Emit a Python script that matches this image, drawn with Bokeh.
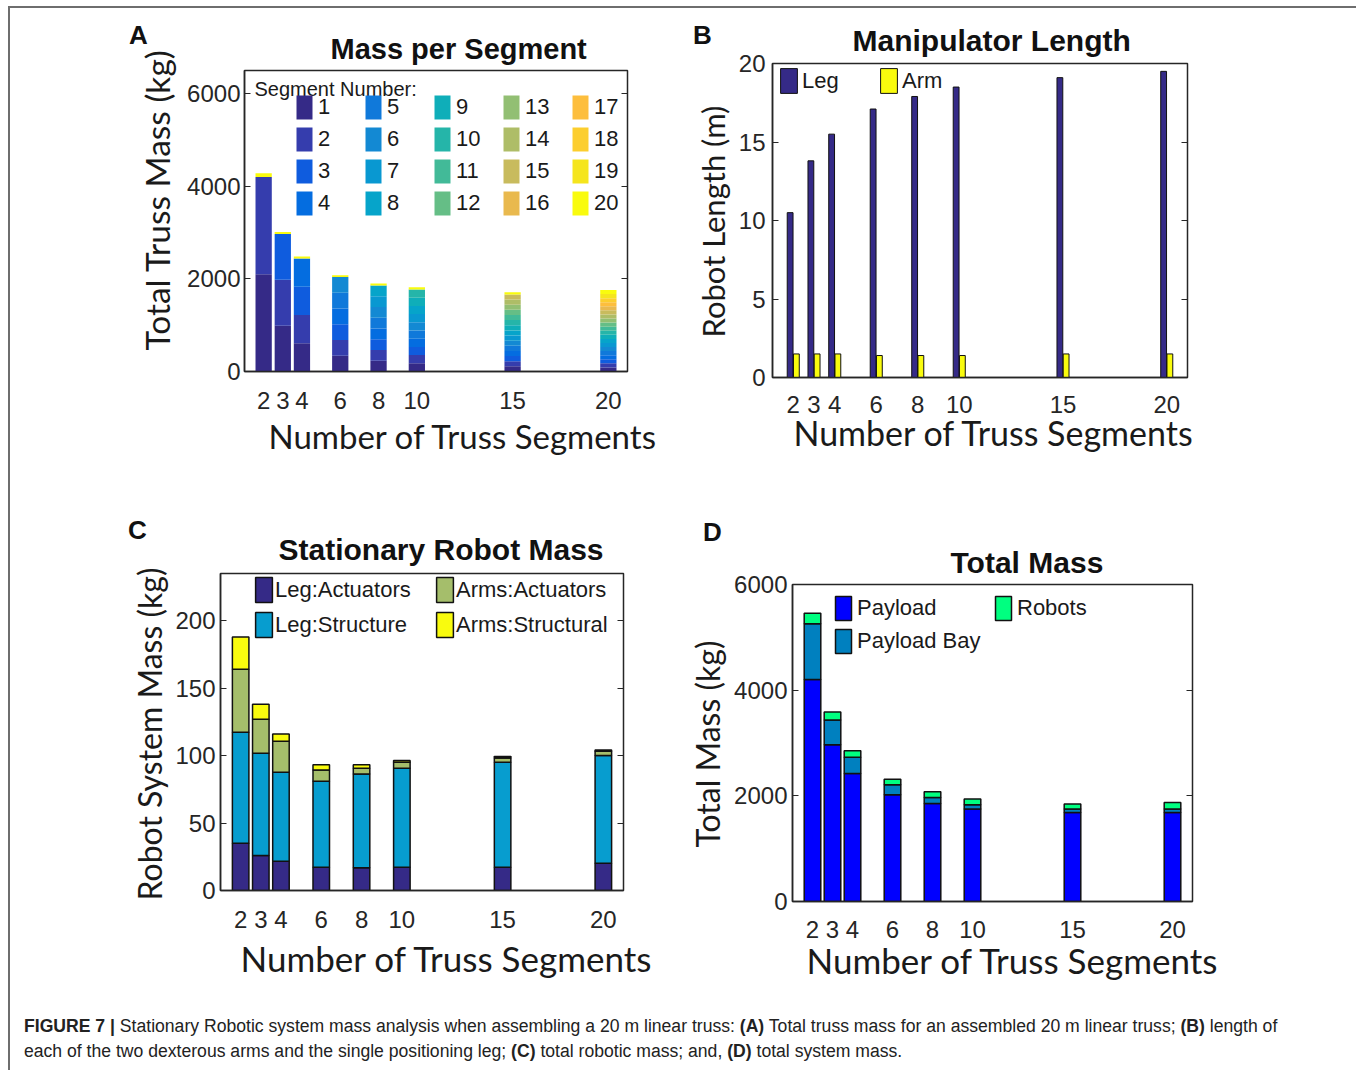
from bokeh.plotting import figure
from bokeh.models import (ColumnDataSource, FixedTicker, Range1d, Legend, LegendItem,
                          Label, LinearAxis, CustomJSTickFormatter, Div, Title)
from bokeh.layouts import row, column
from bokeh.transform import dodge
from bokeh.embed import file_html
from bokeh.resources import INLINE

# ---------------------------------------------------------------- data
truss_segments = [2, 3, 4, 6, 8, 10, 15, 20]

# (A) mass of each truss segment (kg), one list per configuration
seg_mass_n2 = [2100, 2100]
seg_mass_n3 = [990, 990, 990]
seg_mass_n4 = [610, 610, 610, 610]
seg_mass_n6 = [340, 340, 340, 340, 340, 340]
seg_mass_n8 = [232, 232, 232, 232, 232, 232, 232, 232]
seg_mass_n10 = [177, 177, 177, 177, 177, 177, 177, 177, 177, 177]
seg_mass_n15 = [111, 111, 111, 111, 111, 111, 111, 111, 111, 111, 111, 111, 111, 111, 111]
seg_mass_n20 = [88, 88, 88, 88, 88, 88, 88, 88, 88, 88,
                88, 88, 88, 88, 88, 88, 88, 88, 88, 88]
# small end piece stacked in the segment-20 slot
end_cap_mass = [80, 44, 44, 40, 44, 50, 45, 0]
segment_numbers = [str(k) for k in range(1, 21)]

# (B) manipulator lengths (m)
leg_length = [10.5, 13.8, 15.5, 17.1, 17.9, 18.5, 19.1, 19.5]
arm_length = [1.5, 1.5, 1.5, 1.4, 1.4, 1.4, 1.5, 1.5]

# (C) stationary robot mass breakdown (kg)
leg_actuators = [35.0, 26.0, 21.7, 17.3, 16.8, 17.3, 17.3, 20.2]
leg_structure = [82.3, 75.7, 66.0, 63.7, 69.6, 73.3, 77.7, 79.8]
arms_actuators = [46.7, 25.3, 22.9, 8.4, 4.2, 4.4, 3.3, 3.2]
arms_structural = [24.0, 11.0, 5.4, 3.9, 2.7, 1.3, 1.0, 1.0]

# (D) total system mass breakdown (kg)
payload = [4200, 2968, 2425, 2021, 1857, 1750, 1686, 1686]
payload_bay = [1055, 468, 303, 190, 113, 82, 64, 64]
robots = [202, 151, 127, 101, 108, 107, 94, 126]

# ---------------------------------------------------------------- styling
PARULA20 = ["#352a87", "#353dad", "#0f5cde", "#046de0", "#1079da", "#1389d3",
            "#0998d1", "#06a4ca", "#0faeb9", "#25b5a9", "#42ba98", "#65be86",
            "#92bf73", "#aebd67", "#c8bb5d", "#e9b94e", "#fdbe3d", "#fcce2e",
            "#f5e51d", "#f9fb0e"]
LABEL_FONT = "Lato"
TICK_FONT = "Liberation Sans"
INK = "#1a1a1a"
XLABEL = "Number of Truss Segments"


def base_figure(width, height, left, right, top, bottom, y_max):
    p = figure(width=width, height=height, output_backend="svg", toolbar_location=None,
               x_range=Range1d(1, 21), y_range=Range1d(0, y_max),
               min_border_left=left, min_border_right=right,
               min_border_top=top, min_border_bottom=bottom,
               background_fill_color="white", border_fill_color="white")
    p.grid.visible = False
    p.outline_line_color = "#262626"
    p.outline_line_width = 1.5
    return p


def style_axes(p, y_ticks, xt_standoff, yt_standoff):
    p.xaxis.ticker = FixedTicker(ticks=truss_segments)
    p.yaxis.ticker = FixedTicker(ticks=y_ticks)
    for ax in (p.xaxis[0], p.yaxis[0]):
        ax.axis_line_color = "#262626"
        ax.axis_line_width = 1.5
        ax.minor_tick_line_color = None
        ax.major_label_text_font = TICK_FONT
        ax.major_label_text_font_size = "24px"
        ax.major_label_text_color = "#262626"
    p.xaxis.major_tick_line_color = None
    p.xaxis.major_label_standoff = xt_standoff
    p.yaxis.major_tick_in = 6
    p.yaxis.major_tick_out = 0
    p.yaxis.major_tick_line_color = "#262626"
    p.yaxis.major_label_standoff = yt_standoff
    right_ax = LinearAxis(ticker=FixedTicker(ticks=y_ticks),
                          formatter=CustomJSTickFormatter(code="return ''"),
                          major_tick_in=6, major_tick_out=0,
                          major_tick_line_color="#262626",
                          minor_tick_line_color=None, axis_line_color=None)
    p.add_layout(right_ax, "right")


def axis_titles(p, xsize, xoff, xstand, ylabel, ysize, yoff, ystand):
    # axis titles placed as side titles so they can sit off-centre
    p.add_layout(Title(text=XLABEL, align="left", offset=xoff, standoff=xstand,
                       text_font=LABEL_FONT, text_font_style="normal",
                       text_font_size=xsize, text_color=INK), "below")
    p.add_layout(Title(text=ylabel, align="left", offset=yoff, standoff=ystand,
                       text_font=LABEL_FONT, text_font_style="normal",
                       text_font_size=ysize, text_color=INK), "left")


def set_title(p, text, offset, size, standoff):
    p.title.text = text
    p.title.align = "left"
    p.title.offset = offset
    p.title.text_font = TICK_FONT
    p.title.text_font_style = "bold"
    p.title.text_font_size = size
    p.title.text_color = "#111111"
    p.title.standoff = standoff


def panel_letter(p, letter, x, y):
    # kept in the roomy right-hand border panel so the frame does not clip it
    p.add_layout(Label(x=x, y=y, x_units="screen", y_units="screen", text=letter,
                       text_font=TICK_FONT, text_font_style="bold",
                       text_font_size="26px", text_color="#111111",
                       text_align="center", text_baseline="middle"), "right")


def plain_legend(items, **kw):
    lg = Legend(items=items, background_fill_alpha=0, border_line_color=None,
                padding=0, margin=0, label_text_font=TICK_FONT,
                label_text_font_size="22px", label_text_color=INK, **kw)
    return lg


# ---------------------------------------------------------------- (A)
pa = base_figure(670, 482, 234, 53, 62, 119, 6500)
seg_lists = [seg_mass_n2, seg_mass_n3, seg_mass_n4, seg_mass_n6,
             seg_mass_n8, seg_mass_n10, seg_mass_n15, seg_mass_n20]
stack_cols = {"x": truss_segments}
for k in range(20):
    col = []
    for masses, cap in zip(seg_lists, end_cap_mass):
        v = masses[k] if k < len(masses) else 0
        if k == 19:
            v += cap
        col.append(v)
    stack_cols["s%d" % (k + 1)] = col
src_a = ColumnDataSource(stack_cols)
fields = ["s%d" % (k + 1) for k in range(20)]
rs_a = pa.vbar_stack(fields, x="x", width=0.85, color=PARULA20, line_color=None,
                     source=src_a)
style_axes(pa, [0, 2000, 4000, 6000], 14, 4)
axis_titles(pa, "33px", 24, 4, "Total Truss Mass (kg)", "33.5px", 21, 16)
set_title(pa, "Mass per Segment", 86, "29px", 12)
leg_a = plain_legend([LegendItem(label=n, renderers=[r]) for n, r in zip(segment_numbers, rs_a)],
                     location=(50, 153), orientation="vertical", nrows=4,
                     glyph_width=20, glyph_height=30, label_standoff=4,
                     label_width=43, label_height=30, spacing=2)
pa.add_layout(leg_a)
pa.add_layout(Label(x=10, y=283, x_units="screen", y_units="screen", text="Segment Number:",
                    text_font=TICK_FONT, text_font_size="20px", text_color=INK,
                    text_baseline="middle"))
panel_letter(pa, "A", -489, 337)

# ---------------------------------------------------------------- (B)
pb = base_figure(670, 482, 92, 163, 55, 113, 20)
src_b = ColumnDataSource(dict(x=truss_segments, leg=leg_length, arm=arm_length))
r_leg = pb.vbar(x=dodge("x", -0.15), top="leg", width=0.28, source=src_b,
                fill_color=PARULA20[0], line_color="#111111", line_width=1)
r_arm = pb.vbar(x=dodge("x", 0.15), top="arm", width=0.28, source=src_b,
                fill_color=PARULA20[19], line_color="#111111", line_width=1)
style_axes(pb, [0, 5, 10, 15, 20], 12, 7)
axis_titles(pb, "34px", 21, -12, "Robot Length (m)", "31px", 40, 8)
set_title(pb, "Manipulator Length", 80, "30px", 13)
leg_b = plain_legend([LegendItem(label="Leg", renderers=[r_leg]),
                      LegendItem(label="Arm", renderers=[r_arm])],
                     location=(6, 281), orientation="horizontal",
                     glyph_width=21, glyph_height=31, label_standoff=3,
                     label_width=76, label_height=31, spacing=0)
pb.add_layout(leg_b)
panel_letter(pb, "B", -485, 343)

# ---------------------------------------------------------------- (C)
pc = base_figure(670, 505, 210, 57, 83, 105, 235)
src_c = ColumnDataSource(dict(x=truss_segments, la=leg_actuators, ls=leg_structure,
                              aa=arms_actuators, ast=arms_structural))
c_colors = ["#352a87", "#079dcf", "#a5be6b", "#f9fb0e"]
c_names = ["Leg:Actuators", "Leg:Structure", "Arms:Actuators", "Arms:Structural"]
rs_c = pc.vbar_stack(["la", "ls", "aa", "ast"], x="x", width=0.82, color=c_colors,
                     line_color="#111111", line_width=1.5, source=src_c)
style_axes(pc, [0, 50, 100, 150, 200], 14, 5)
axis_titles(pc, "35px", 20, 8, "Robot System Mass (kg)", "32px", -10, 8)
set_title(pc, "Stationary Robot Mass", 58, "30px", 15)
leg_c = plain_legend([LegendItem(label=n, renderers=[r]) for n, r in zip(c_names, rs_c)],
                     location=(33, 250), orientation="vertical", nrows=2,
                     glyph_width=21, glyph_height=31, label_standoff=1,
                     label_width=155, label_height=31, spacing=4)
pc.add_layout(leg_c)
panel_letter(pc, "C", -486, 361)

# ---------------------------------------------------------------- (D)
pd_ = base_figure(670, 505, 112, 158, 94, 94, 6000)
src_d = ColumnDataSource(dict(x=truss_segments, pl=payload, pb=payload_bay, rb=robots))
d_colors = ["#0000ff", "#0080bf", "#00ff80"]
d_names = ["Payload", "Payload Bay", "Robots"]
rs_d = pd_.vbar_stack(["pl", "pb", "rb"], x="x", width=0.83, color=d_colors,
                      line_color="#111111", line_width=1.5, source=src_d)
style_axes(pd_, [0, 2000, 4000, 6000], 13, 5)
axis_titles(pd_, "35px", 14, -7, "Total Mass (kg)", "32px", 54, 9)
set_title(pd_, "Total Mass", 158, "30px", 11)
leg_d = plain_legend([LegendItem(label=n, renderers=[r]) for n, r in zip(d_names, rs_d)],
                     location=(41, 245), orientation="vertical", nrows=2,
                     glyph_width=20, glyph_height=30, label_standoff=4,
                     label_width=133, label_height=30, spacing=3)
pd_.add_layout(leg_d)
panel_letter(pd_, "D", -480, 370)

# ---------------------------------------------------------------- caption
caption = Div(
    text=("<b>FIGURE 7 |</b> Stationary Robotic system mass analysis when assembling a 20 m "
          "linear truss: <b>(A)</b> Total truss mass for an assembled 20 m linear truss; "
          "<b>(B)</b> length of<br>each of the two dexterous arms and the single positioning "
          "leg; <b>(C)</b> total robotic mass; and, <b>(D)</b> total system mass."),
    width=1340, height=75,
    styles={"font-family": "Liberation Sans, Arial, sans-serif", "font-size": "17.6px",
            "line-height": "25px", "color": "#222222", "padding-left": "9px",
            "padding-top": "14px"})

layout = column(row(column(pa), column(pb)), row(column(pc), column(pd_)), caption,
                styles={"border-left": "2px solid #6e6e6e", "border-top": "2px solid #6e6e6e",
                        "border-right": "2px solid #6e6e6e"},
                margin=(6, 0, 0, 8))

open("out.html", "w").write(file_html(layout, INLINE))
